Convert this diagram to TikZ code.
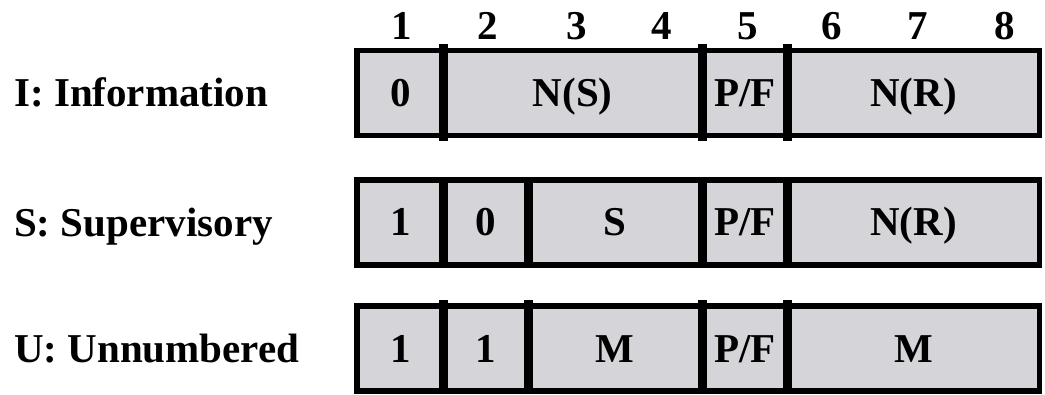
\documentclass[tikz,border=0pt]{standalone}
\usepackage{fontspec}
\setmainfont{Liberation Serif}
\usetikzlibrary{positioning}
\definecolor{cellgrey}{RGB}{213,212,216}

\begin{document}
\begin{tikzpicture}[x=1pt,y=1pt,
    cell/.style={fill=cellgrey,inner sep=0pt,outer sep=0pt,minimum height=85pt,
                 text height=27pt,text depth=0pt,font=\bfseries\fontsize{41}{48}\selectfont},
    frame/.style={line width=5.5pt},
    divider/.style={line width=9pt},
    lbl/.style={inner sep=0pt,anchor=base west,font=\bfseries\fontsize{41}{48}\selectfont}]
\useasboundingbox (0,0) rectangle (1045,394);

% bit numbers
\foreach \n/\x in {1/402,2/488,3/577,4/662,5/748,6/832,7/918,8/1005}
  \node[lbl,anchor=base] (bit\n) at (\x,354) {\n};

% I: information frame
\node[lbl] (ilabel) at (14,287) {I: Information};
\node[cell,minimum width=86.5pt,anchor=west] (i0) at (357,301) {0};
\node[cell,minimum width=258.5pt,right=0pt of i0] (ins) {N(S)};
\node[cell,minimum width=85.5pt,right=0pt of ins] (ipf) {P/F};
\node[cell,minimum width=252pt,right=0pt of ipf] (inr) {N(R)};
\draw[frame] (i0.north west) rectangle (inr.south east);
\foreach \c in {i0,ins,ipf}
  \draw[divider] ([yshift=6pt]\c.north east) -- ([yshift=-6pt]\c.south east);

% S: supervisory frame
\node[lbl] (slabel) at (14,157.5) {S: Supervisory};
\node[cell,minimum width=86.5pt,anchor=west] (s1) at (357,171.5) {1};
\node[cell,minimum width=85pt,right=0pt of s1] (s0) {0};
\node[cell,minimum width=173.5pt,right=0pt of s0] (ss) {S};
\node[cell,minimum width=85.5pt,right=0pt of ss] (spf) {P/F};
\node[cell,minimum width=252pt,right=0pt of spf] (snr) {N(R)};
\draw[frame] (s1.north west) rectangle (snr.south east);
\foreach \c in {s1,s0,ss,spf}
  \draw[divider] ([yshift=2.75pt]\c.north east) -- ([yshift=-2.75pt]\c.south east);

% U: unnumbered frame
\node[lbl] (ulabel) at (14,31.5) {U: Unnumbered};
\node[cell,minimum width=86.5pt,anchor=west] (u1) at (357,45.5) {1};
\node[cell,minimum width=85pt,right=0pt of u1] (u1b) {1};
\node[cell,minimum width=173.5pt,right=0pt of u1b] (um) {M};
\node[cell,minimum width=85.5pt,right=0pt of um] (upf) {P/F};
\node[cell,minimum width=252pt,right=0pt of upf] (umb) {M};
\draw[frame] (u1.north west) rectangle (umb.south east);
\foreach \c in {u1,u1b,um,upf}
  \draw[divider] ([yshift=6pt]\c.north east) -- ([yshift=-2.75pt]\c.south east);
\end{tikzpicture}
\end{document}
